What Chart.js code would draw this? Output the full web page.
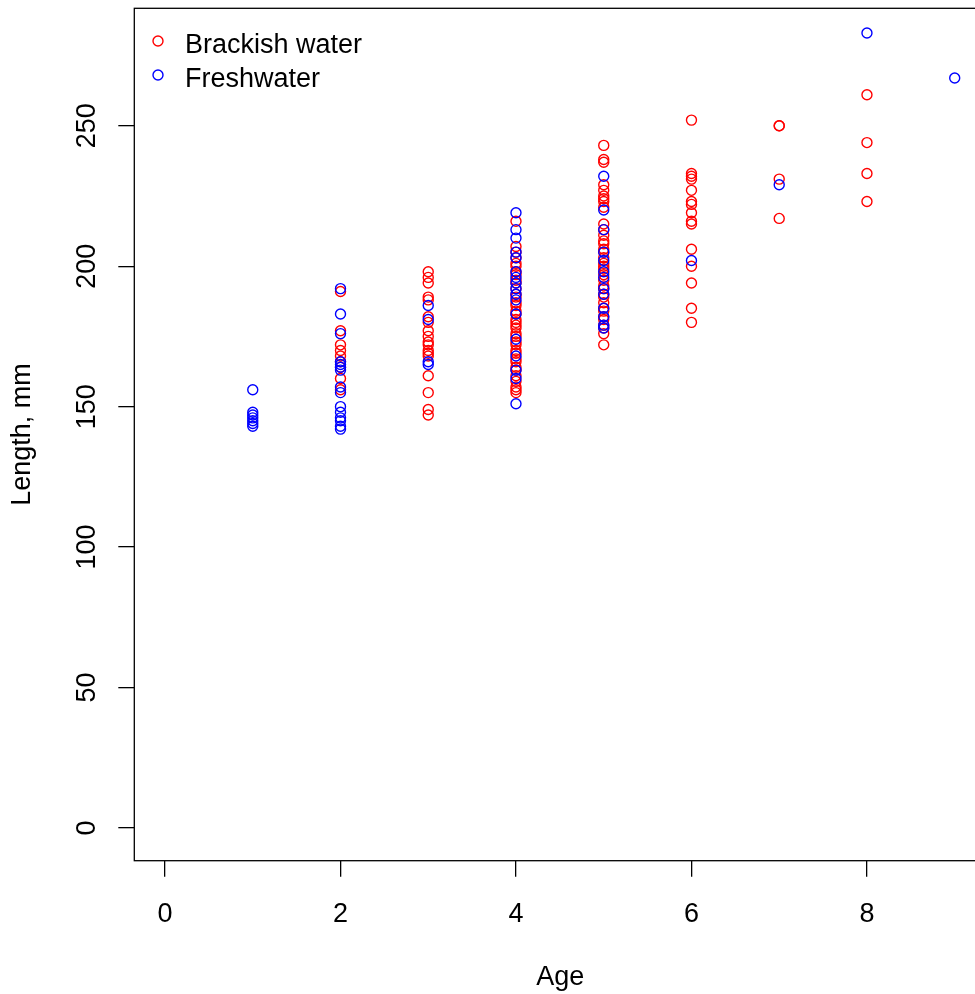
<!DOCTYPE html>
<html>
<head>
<meta charset="utf-8">
<script src="https://cdn.jsdelivr.net/npm/chart.js@4.4.1/dist/chart.umd.min.js"></script>
<style>
  html, body { margin:0; padding:0; overflow:hidden; background:#fff; }
  #wrap { width:1000px; height:994px; }
</style>
</head>
<body>
<div id="wrap"><canvas id="fish" width="1000" height="994"></canvas></div>
<script>
// ages 1..9, lengths (mm)
const ages = [1, 2, 3, 4, 5, 6, 7, 8, 9];
const brackishLen = [
  [],
  [191, 177, 172, 170, 168, 166, 164, 160, 156],
  [198, 194, 196, 189, 188, 182, 180, 177, 175, 173, 172, 170, 169, 168, 161, 155, 149, 147],
  [216, 207, 205, 203, 201, 200, 198, 197, 195, 194, 192, 190, 189, 187, 186, 184, 183, 181, 180,
   179, 178, 176, 175, 173, 172, 170, 169, 167, 166, 164, 163, 161, 159, 157, 156, 155],
  [243, 238, 237, 229, 227, 225, 224, 223, 221, 215, 213, 211, 209, 208, 206, 205, 203, 201, 200,
   199, 197, 195, 193, 192, 190, 189, 187, 185, 184, 182, 181, 179, 178, 176, 172],
  [252, 233, 232, 231, 227, 223, 222, 219, 216, 215, 206, 200, 194, 185, 180],
  [250, 250, 231, 217],
  [261, 244, 233, 223],
  []
];
const freshLen = [
  [156, 148, 147, 146, 145, 144, 143],
  [192, 183, 176, 166, 165, 164, 163, 157, 155, 150, 148, 146, 145, 143, 142],
  [186, 181, 166, 165],
  [219, 213, 210, 205, 203, 198, 196, 194, 192, 190, 188, 183, 174, 168, 163, 160, 151],
  [232, 220, 213, 205, 202, 198, 196, 192, 190, 185, 182, 179, 178],
  [202],
  [229],
  [283],
  [267]
];
const seriesNames = ['Brackish water', 'Freshwater'];
const seriesColors = ['#ff0000', '#0000ff'];
const xTicks = [0, 2, 4, 6, 8];
const yTicks = [0, 50, 100, 150, 200, 250];

const toPoints = groups => groups.flatMap((g, i) => g.map(v => ({ x: ages[i], y: v })));
const FONT = '"Liberation Sans", Arial, sans-serif';

const frame = {
  id: 'frame',
  afterDatasetsDraw(c) {
    const { ctx, chartArea: a } = c;
    ctx.save();
    ctx.strokeStyle = '#000';
    ctx.lineWidth = 1.3;
    ctx.strokeRect(a.left, a.top, a.right - a.left, a.bottom - a.top);
    // legend, top-left inside the box
    ctx.font = '27px ' + FONT;
    ctx.textBaseline = 'middle';
    ctx.textAlign = 'left';
    seriesNames.forEach((name, i) => {
      const y = 41 + i * 34;
      ctx.beginPath();
      ctx.arc(158, y, 5, 0, Math.PI * 2);
      ctx.strokeStyle = seriesColors[i];
      ctx.lineWidth = 1.4;
      ctx.stroke();
      ctx.fillStyle = '#000';
      ctx.fillText(name, 185, y + 5);
    });
    ctx.restore();
  }
};

const noPad = s => { s.paddingTop = 0; s.paddingBottom = 0; s.paddingLeft = 0; s.paddingRight = 0; };

new Chart(document.getElementById('fish'), {
  type: 'scatter',
  data: {
    datasets: [
      { label: seriesNames[0], data: toPoints(brackishLen), order: 1,
        borderColor: seriesColors[0], backgroundColor: 'rgba(0,0,0,0)',
        pointRadius: 5, borderWidth: 1.4, pointHoverRadius: 5 },
      { label: seriesNames[1], data: toPoints(freshLen), order: 0,
        borderColor: seriesColors[1], backgroundColor: 'rgba(0,0,0,0)',
        pointRadius: 5, borderWidth: 1.4, pointHoverRadius: 5 }
    ]
  },
  options: {
    responsive: false,
    animation: false,
    layout: { padding: { top: 8.3, right: 13.7, left: 0, bottom: 0 } },
    plugins: { legend: { display: false }, tooltip: { enabled: false } },
    scales: {
      x: {
        type: 'linear', min: -0.35, max: 9.36,
        afterBuildTicks: s => { s.ticks = xTicks.map(v => ({ value: v })); },
        afterFit: s => { s.height = 133.3; noPad(s); },
        grid: { drawOnChartArea: false, drawTicks: true, tickLength: 16, color: '#000', lineWidth: 1.3 },
        border: { display: false },
        ticks: { color: '#000', font: { family: FONT, size: 27 }, padding: 22, maxRotation: 0 },
        title: { display: true, text: 'Age', color: '#000', font: { family: FONT, size: 27 }, padding: 0 }
      },
      y: {
        type: 'linear', min: -11.64, max: 291.8,
        afterBuildTicks: s => { s.ticks = yTicks.map(v => ({ value: v })); },
        afterFit: s => { s.width = 134.3; noPad(s); },
        grid: { drawOnChartArea: false, drawTicks: true, tickLength: 16, color: '#000', lineWidth: 1.3 },
        border: { display: false },
        ticks: { color: '#000', font: { family: FONT, size: 27 }, padding: 8,
                 minRotation: 90, maxRotation: 90, crossAlign: 'center' },
        title: { display: true, text: 'Length, mm', color: '#000', font: { family: FONT, size: 27 },
                 padding: { top: 6, bottom: 0 } }
      }
    }
  },
  plugins: [frame]
});
</script>
</body>
</html>
